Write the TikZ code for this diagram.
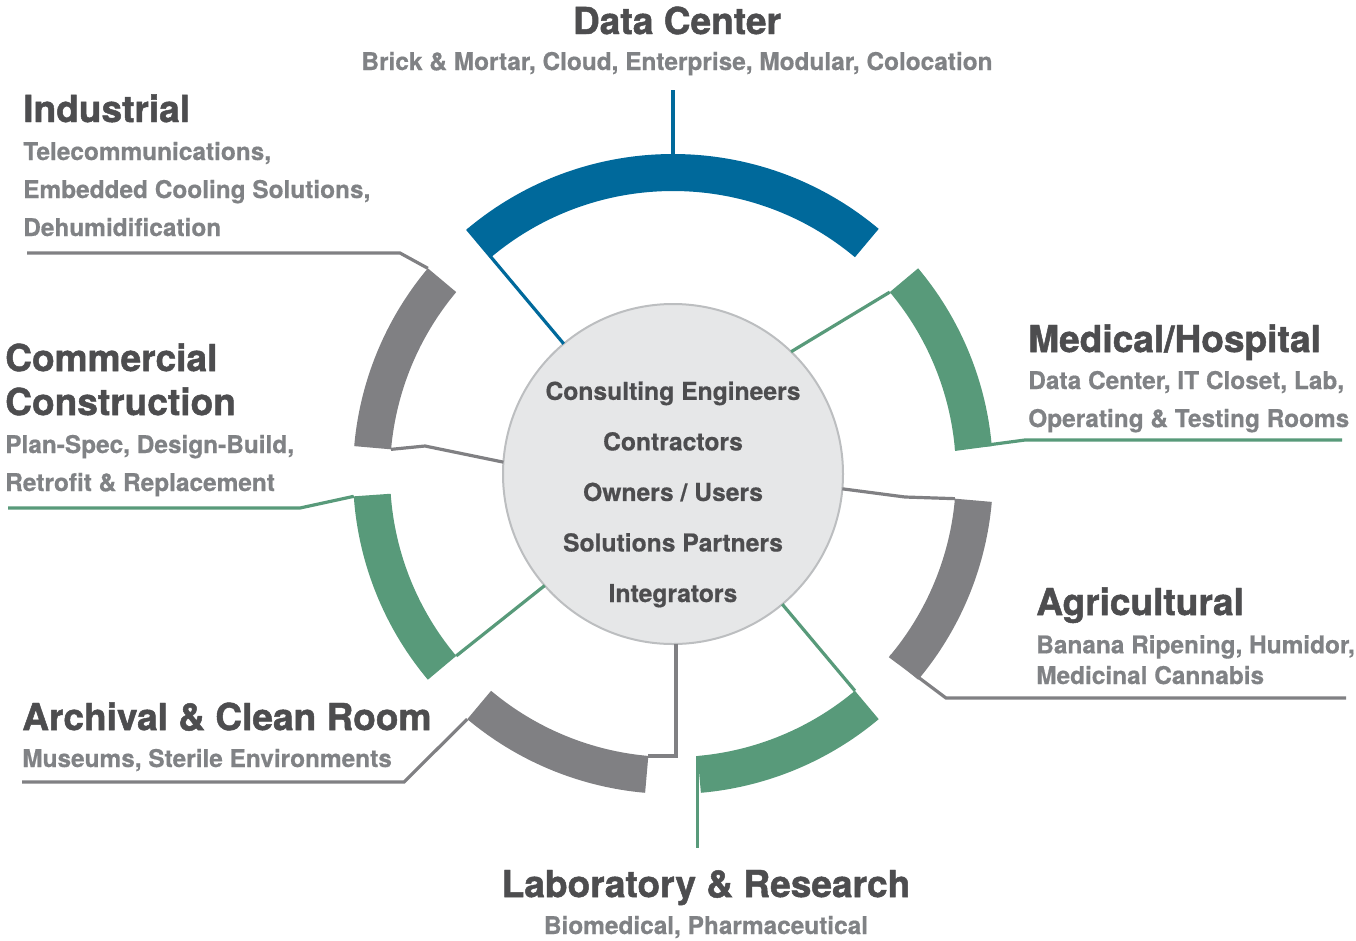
\documentclass[tikz,border=0pt]{standalone}
\usepackage{fontspec}
\setmainfont{TeX Gyre Heros}[BoldFeatures={FakeBold=0.6}]
\newfontfamily\headfont{TeX Gyre Heros}[BoldFeatures={FakeBold=1.3}]
\usetikzlibrary{positioning,calc}

\definecolor{dcblue}{RGB}{0,105,155}
\definecolor{bandgreen}{RGB}{88,154,122}
\definecolor{bandgray}{RGB}{128,128,131}
\definecolor{headgray}{RGB}{77,77,79}
\definecolor{subgray}{RGB}{128,130,133}
\definecolor{hubfill}{RGB}{230,231,232}
\definecolor{hubrim}{RGB}{188,190,192}

\def\Rin{283}
\def\Rout{320}

\tikzset{
  headtxt/.style={font=\headfont\bfseries\fontsize{27.8}{33}\selectfont, text=headgray, inner sep=0pt, align=left},
  subtxt/.style ={font=\bfseries\fontsize{18.3}{28.5}\selectfont, text=subgray, inner sep=0pt, align=left},
  hub/.style    ={circle, fill=hubfill, draw=hubrim, line width=1.5pt, minimum size=255pt, inner sep=0pt, outer sep=0pt},
  hubtxt/.style ={font=\bfseries\fontsize{18.5}{37.9}\selectfont, text=headgray, inner sep=0pt, align=center},
  spoke/.style  ={line width=2.4pt},
}

% one coloured band of the ring: colour, start angle, end angle
\newcommand{\band}[3]{%
  \fill[#1] (#2:\Rout) arc[start angle=#2, end angle=#3, radius=\Rout]
    -- (#3:\Rin) arc[start angle=#3, end angle=#2, radius=\Rin] -- cycle;}

\begin{document}
\begin{tikzpicture}[x=0.75pt, y=0.75pt]
  \useasboundingbox (0,0) rectangle (1356,-940);

  %--- Hub with the roles (base = last line) ---
  \node[hub] (hub) at (673,-474) {};
  \node[hubtxt, anchor=base] (roles) at (673,-602)
    {Consulting Engineers\\Contractors\\Owners / Users\\Solutions Partners\\Integrators};

  %--- Bands round the hub ---
  \begin{scope}[shift={(673,-474)}]
    \band{dcblue}{50}{130}
    \band{bandgreen}{5}{40}
    \band{bandgray}{-40}{-5}
    \band{bandgreen}{-85}{-50}
    \band{bandgray}{230}{265}
    \band{bandgreen}{184}{220}
    \band{bandgray}{140}{175}
    % band corners
    \coordinate (dcTop) at (90:\Rout);
    \coordinate (dcL)   at (130:\Rout);
    \coordinate (medT)  at (40:\Rin);
    \coordinate (medB)  at (5:\Rin);
    \coordinate (agrT)  at (-5:\Rin);
    \coordinate (agrB)  at (-40:\Rin);
    \coordinate (labR)  at (-50:\Rin);
    \coordinate (labL)  at (-85:\Rin);
    \coordinate (arcR)  at (265:\Rin);
    \coordinate (arcL)  at (230:\Rout);
    \coordinate (comT)  at (184:\Rout);
    \coordinate (comB)  at (220:\Rin);
    \coordinate (indB)  at (175:\Rin);
    \coordinate (indT)  at (140:\Rout);
  \end{scope}

  %--- Data Center ---
  \node[headtxt, anchor=base] (dc) at (677,-34) {Data Center};
  \node[subtxt, anchor=base] (dcsub) at (677,-70) {Brick \& Mortar, Cloud, Enterprise, Modular, Colocation};
  \coordinate (dcEnd) at (673,-90);
  \draw[spoke, dcblue] (dcEnd) -- (dcTop);
  \draw[spoke, dcblue] (hub.130) -- (dcL);

  %--- Medical/Hospital ---
  \node[headtxt, anchor=base west] (med) at (1028,-352) {Medical/Hospital};
  \node[subtxt, anchor=base west] (medsub) at (1028,-427) {Data Center, IT Closet, Lab,\\Operating \& Testing Rooms};
  \coordinate (medEnd) at (1342,-440);
  \draw[spoke, bandgreen] (hub.46) -- (medT);
  \draw[spoke, bandgreen] (medB) -- (1025,-440) -- (medEnd);

  %--- Agricultural ---
  \node[headtxt, anchor=base west] (agr) at (1036,-615) {Agricultural};
  \node[subtxt, anchor=base west] (agrsub) at (1036,-684) {Banana Ripening, Humidor,\\[-5.5pt]Medicinal Cannabis};
  \coordinate (agrEnd) at (1346,-698);
  \draw[spoke, bandgray] (hub.-5) -- (905,-497) -- (agrT);
  \draw[spoke, bandgray] (agrB) -- (946,-698) -- (agrEnd);

  %--- Laboratory & Research ---
  \node[headtxt, anchor=base] (lab) at (706,-897) {Laboratory \& Research};
  \node[subtxt, anchor=base] (labsub) at (706,-934) {Biomedical, Pharmaceutical};
  \coordinate (labEnd) at (698,-848);
  \draw[spoke, bandgreen] (hub.-50) -- (labR);
  \draw[spoke, bandgreen] (labL) -- (labL |- labEnd);

  %--- Archival & Clean Room ---
  \node[headtxt, anchor=base west] (arc) at (22,-730) {Archival \& Clean Room};
  \node[subtxt, anchor=base west] (arcsub) at (22,-767) {Museums, Sterile Environments};
  \coordinate (arcEnd) at (22,-782);
  \draw[spoke, bandgray] (hub.-89) |- (arcR);
  \draw[spoke, bandgray] (arcL) -- (404,-782) -- (arcEnd);

  %--- Commercial Construction ---
  \node[headtxt, anchor=base west] (com) at (5,-415) {Commercial\\Construction};
  \node[subtxt, anchor=base west] (comsub) at (5,-491) {Plan-Spec, Design-Build,\\Retrofit \& Replacement};
  \coordinate (comEnd) at (8,-508);
  \draw[spoke, bandgreen] (hub.221) -- (comB);
  \draw[spoke, bandgreen] (comT) -- (300,-508) -- (comEnd);

  %--- Industrial ---
  \node[headtxt, anchor=base west] (ind) at (23,-122) {Industrial};
  \node[subtxt, anchor=base west] (indsub) at (23,-236) {Telecommunications,\\Embedded Cooling Solutions,\\Dehumidification};
  \coordinate (indEnd) at (27,-253);
  \draw[spoke, bandgray] (hub.176) -- (425,-446) -- (indB);
  \draw[spoke, bandgray] (indT) -- (400,-253) -- (indEnd);
\end{tikzpicture}
\end{document}
